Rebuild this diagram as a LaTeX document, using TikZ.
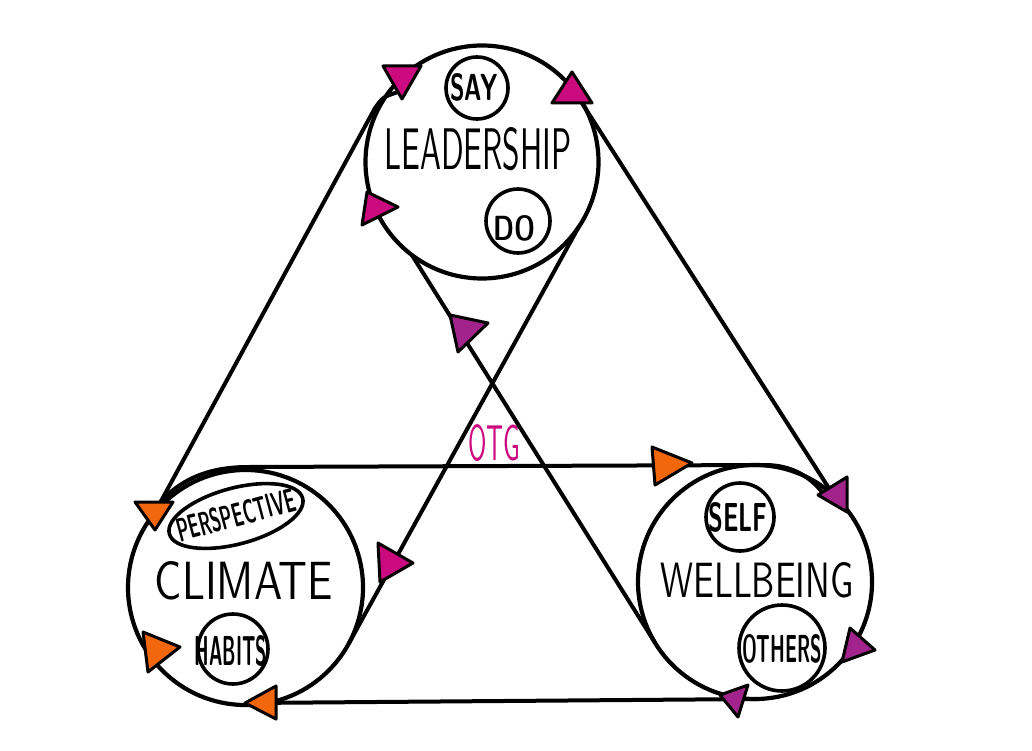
\documentclass[tikz,border=0pt]{standalone}
\usepackage{graphicx}
\usetikzlibrary{shapes.geometric}
\definecolor{mag}{HTML}{CC0A7F}
\definecolor{pur}{HTML}{A1238B}
\definecolor{org}{HTML}{F2670C}
\begin{document}
\begin{tikzpicture}[x=1pt,y=-1pt, line cap=round, line join=round,
  big/.style={circle, draw, line width=4.2pt, inner sep=0pt, outer sep=0pt},
  small/.style={circle, draw, line width=3.6pt, inner sep=0pt, outer sep=0pt},
  link/.style={line width=4pt},
  tri/.style={draw, line width=3pt, line join=round},
  lbl/.style={inner sep=0pt, font=\sffamily},
  tag/.style={inner sep=0pt, font=\sffamily\bfseries}]
\useasboundingbox (0,0) rectangle (1032,751);

% connector end points
\coordinate (ltA) at (160,503);
\coordinate (ltB) at (398,92);
\coordinate (rtA) at (580,100);
\coordinate (rtB) at (832,493);
\coordinate (tbA) at (163,499);
\coordinate (tbB) at (822,492);
\coordinate (bbA) at (248,703);
\coordinate (bbB) at (758,699);

% main circles
\node[big, minimum size=233pt] (lead) at (482,162) {};
\node[big, minimum size=235pt] (clim) at (245.5,587.5) {};
\node[big, minimum size=234pt] (well) at (755,582) {};

% small circles
\node[small, minimum size=62pt] (say) at (477,88) {};
\node[small, minimum size=64pt] (do) at (518,221) {};
\node[small, ellipse, minimum width=138pt, minimum height=56pt, rotate=15] (persp) at (236,516) {};
\node[small, minimum size=70pt] (habits) at (233,649) {};
\node[small, minimum size=68pt] (self) at (740,517) {};
\node[small, minimum size=86pt] (others) at (782,648) {};

% labels
\node[lbl] (leadt) at (478,149) {\resizebox{187pt}{42pt}{LEADERSHIP}};
\node[lbl] (climt) at (244,581) {\resizebox{178pt}{38pt}{CLIMATE}};
\node[lbl] (wellt) at (757,580) {\resizebox{193pt}{35pt}{WELLBEING}};
\node[lbl, text=mag] (otg) at (494,443) {\resizebox{52pt}{36pt}{OTG}};
\node[tag] (sayt) at (474,87) {\resizebox{47pt}{27pt}{SAY}};
\node[tag] (dot) at (514,228) {\resizebox{42pt}{25pt}{DO}};
\node[tag, rotate=15] (perspt) at (236,515) {\resizebox{122pt}{24pt}{PERSPECTIVE}};
\node[tag] (habitst) at (231,651) {\resizebox{72pt}{30pt}{HABITS}};
\node[tag] (selft) at (738,517) {\resizebox{59pt}{29pt}{SELF}};
\node[tag] (otherst) at (782,649) {\resizebox{80pt}{28pt}{OTHERS}};

% connectors
\draw[link] (ltA) -- (375,108) .. controls (383,97) .. (ltB);
\draw[link] (rtA) -- (rtB);
\draw[link] (tbA) .. controls (185,477) and (212,467) .. (248,467) -- (765,465) .. controls (792,465) and (810,477) .. (tbB);
\draw[link] (bbA) -- (bbB);
\draw[link] (lead.-34) -- (clim.-28);
\draw[link] (lead.233) -- (well.211);

% arrow heads
\filldraw[tri, fill=mag] (383,66) -- (421,66) -- (402,99) -- cycle;
\filldraw[tri, fill=mag] (572,72) -- (592,103) -- (552,103) -- cycle;
\filldraw[tri, fill=mag] (367,192) -- (398,207) -- (362,225) -- cycle;
\filldraw[tri, fill=mag] (378,543) -- (413,563) -- (380,582) -- cycle;
\filldraw[tri, fill=pur] (450,315) -- (488,323) -- (458,352) -- cycle;
\filldraw[tri, fill=org] (135,502) -- (173,502) -- (155,530) -- cycle;
\filldraw[tri, fill=org] (143,632) -- (180,647) -- (148,672) -- cycle;
\filldraw[tri, fill=org] (245,703) -- (276,686) -- (276,719) -- cycle;
\filldraw[tri, fill=org] (652,447) -- (692,463) -- (655,485) -- cycle;
\filldraw[tri, fill=pur] (818,495) -- (847,477) -- (847,512) -- cycle;
\filldraw[tri, fill=pur] (850,628) -- (875,650) -- (842,662) -- cycle;
\filldraw[tri, fill=pur] (720,695) -- (748,685) -- (738,717) -- cycle;
\end{tikzpicture}
\end{document}
